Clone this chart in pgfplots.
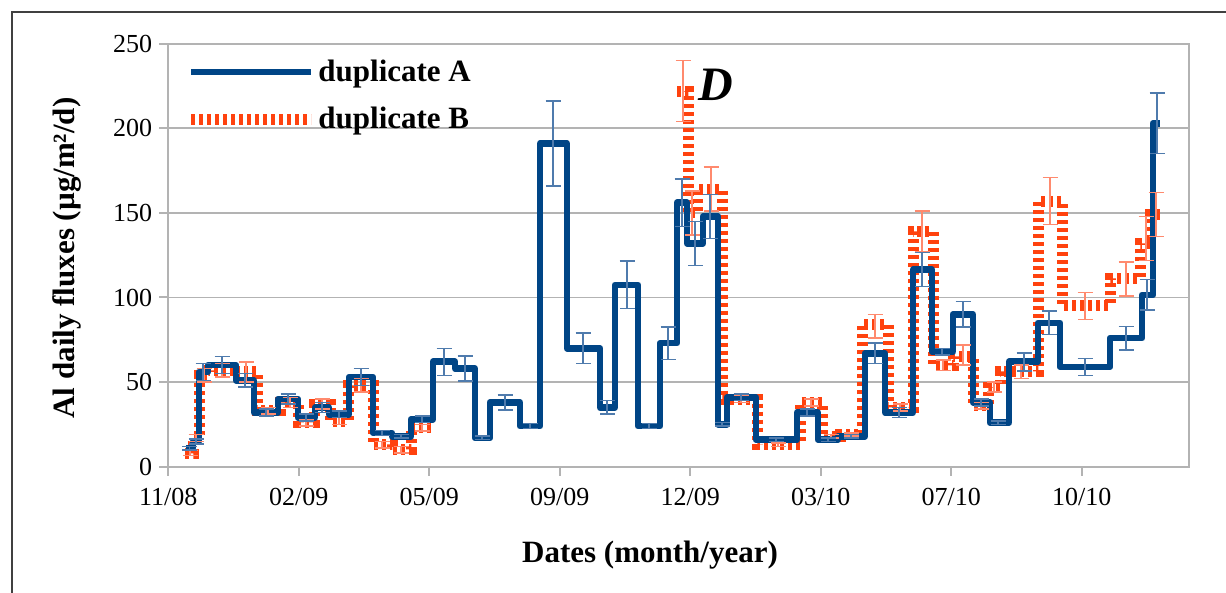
\documentclass[border=0pt]{standalone}
\usepackage{fontspec}
\setmainfont{Liberation Serif}
\usepackage{pgfplots}
\usepackage{pgfplotstable}
\pgfplotsset{compat=1.18}

\definecolor{serA}{HTML}{004586}
\definecolor{serB}{HTML}{FF420E}
\definecolor{errA}{HTML}{4F7BAD}
\definecolor{errB}{HTML}{FF8A6E}
\definecolor{gridc}{HTML}{B3B3B3}

% x = position along the date axis (ticks 11/08 ... 10/10), y = flux
\pgfplotstableread{
x y
186 11
193 15
199 56
208 60
236 51
254 32
278 40
298 29
315 35
329 31
349 53
373 20
392 18
411 28
433 62
455 58
475 17
490 38
520 24
540 191
567 70
600 35
615 107.5
638 24
660 73
677 156
687 132
703 148
718 25
727 41
756 16
797 32
818 16
838 18
865 67
885 32
913 116.5
932 68
953 90
973 38
990 26
1009 62
1038 85
1060 59
1110 76
1142 101.5
1153 203
1160 203
}\stepA

\pgfplotstableread{
x y
185 8
193 17
199 54
208 57
236 56
257 33
280 38
298 26
314 37
330 27
348 48
373 13
392 10
411 23
433 23
}\stepBa

\pgfplotstableread{
x y
677 222
688 150
697 164
722 40
757 13
800 38
822 18
840 19
862 84
888 35
913 139
933 60
953 65
973 36
988 47
1000 56
1038 157
1062 95
1110 111
1140 132
1150 149
1160 149
}\stepBb

% error bars at the middle of each sampling period
\pgfplotstableread{
x y e
189.5 11 1
196 15 1.5
203 56 5
222 60 5
245 51 4
266 32 2
288 40 3
306 29 2
322 35 3
339 31 2
361 53 5
382 20 1.5
401 18 1
422 28 2
444 62 8
465 58 7.5
482 17 1
505 38 4.5
530 24 1.5
553 191 25
583 70 9
607 35 4
627 107.5 14
649 24 1.5
668 73 9.5
682 156 14
695 132 13
710 148 13
722 25 1
741 41 2
776 16 1
807 32 2
828 16 1
851 18 1
875 67 6
899 32 3
922 116.5 10
942 68 2
963 90 7.5
981 38 2
998 26 1
1024 62 5.3
1049 85 7
1085 59 5
1126 76 7
1147 101.5 9
1157 203 18
}\errA

\pgfplotstableread{
x y e
190 8 1.5
196 17 2
204 54 4
222 57 4
246 56 6
268 33 2
290 38 3
306 26 2
322 37 3
339 27 2
361 48 4
382 13 2
401 10 2
422 23 2
683 222 18
692 150 13
711 164 13
741 40 2
778 13 1
811 38 2
831 18 1
851 19 1
875 83 7
900 35 2
922 139 12
943 60 3
963 66 6
981 36 2
994 47 3
1021 56 4
1050 157 14
1085 95 8
1126 111 10
1146 135 13
1156 149 13
}\errB

\begin{document}
\begin{tikzpicture}
\useasboundingbox (0,0) rectangle (613pt,296.5pt);
\draw[black!75, line width=1pt] (6pt,0) -- (6pt,290.5pt) -- (613pt,290.5pt);
\begin{axis}[
  at={(84.15pt,63.15pt)}, anchor=south west,
  scale only axis, width=510.5pt, height=211.5pt,
  xmin=168.3, xmax=1189.3, ymin=0, ymax=250,
  xtick={168.3,298.8,429.3,559.8,690.3,820.8,951.3,1081.8},
  xticklabels={11/08,02/09,05/09,09/09,12/09,03/10,07/10,10/10},
  ytick={0,50,...,250},
  xtick pos=bottom, ytick pos=left,
  tick align=outside, major tick length=4.5pt,
  tick style={gridc, line width=1pt},
  axis line style={gridc, line width=1pt},
  ymajorgrids, grid style={gridc, line width=0.8pt},
  ticklabel style={font=\fontsize{13}{15}\selectfont},
  xticklabel style={yshift=-2.5pt},
  /pgf/number format/assume math mode=true,
  xlabel={Dates (month/year)},
  ylabel={Al daily fluxes (µg/m²/d)},
  label style={font=\bfseries\fontsize{15.5}{18}\selectfont},
  xlabel style={at={(axis description cs:0.4718,-0.21)}, anchor=center},
  ylabel style={at={(axis description cs:-0.099,0.4934)}, anchor=center},
  legend image code/.code={\path[draw=none, fill=none, use as bounding box] (0pt,0pt) rectangle (60pt,8pt);
    \draw[#1] (0pt,0pt) -- (60pt,0pt);},
  legend cell align=left,
  legend style={at={(axis description cs:0.0164,0.982)}, anchor=north west,
    draw=none, fill=none, row sep=7.5pt,
    font=\bfseries\fontsize{15.5}{18}\selectfont,
    /tikz/every odd column/.append style={column sep=1.5pt}},
]
\addplot[const plot, serB, line width=5.5pt, dash pattern=on 2pt off 2pt, forget plot] table[x=x,y=y] {\stepBa};
\addplot[const plot, serB, line width=5.5pt, dash pattern=on 2pt off 2pt, forget plot] table[x=x,y=y] {\stepBb};
\addplot[const plot, serA, line width=3.3pt, line join=round, forget plot] table[x=x,y=y] {\stepA};
\addplot[draw=none, mark=none, forget plot,
  error bars/.cd, y dir=both, y explicit,
  error bar style={draw=errB, line width=0.75pt},
  error mark options={draw=errB, rotate=90, line width=0.75pt, mark size=3.75pt}]
  table[x=x,y=y,y error=e] {\errB};
\addplot[draw=none, mark=none, forget plot,
  error bars/.cd, y dir=both, y explicit,
  error bar style={draw=errA, line width=0.75pt},
  error mark options={draw=errA, rotate=90, line width=0.75pt, mark size=3.75pt}]
  table[x=x,y=y,y error=e] {\errA};
\addlegendimage{serA, line width=3.3pt}
\addlegendentry{duplicate A}
\addlegendimage{serB, line width=5.5pt, dash pattern=on 2pt off 2pt}
\addlegendentry{duplicate B}
\node[font=\bfseries\itshape\fontsize{24}{28}\selectfont] at (axis cs:716,225.5) {D};
\end{axis}
\end{tikzpicture}
\end{document}
